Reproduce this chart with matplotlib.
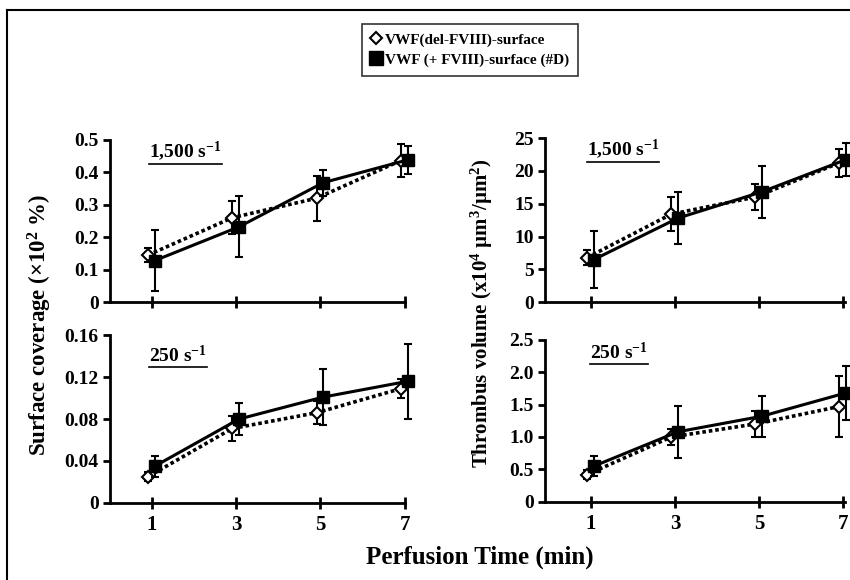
import matplotlib
matplotlib.use("Agg")
import matplotlib.pyplot as plt
from matplotlib.lines import Line2D
from matplotlib.transforms import IdentityTransform

plt.rcParams['font.family'] = ['Liberation Serif', 'DejaVu Serif']
plt.rcParams['font.weight'] = 'bold'
plt.rcParams['mathtext.fontset'] = 'custom'
plt.rcParams['mathtext.rm'] = 'Liberation Serif:bold'
plt.rcParams['mathtext.it'] = 'Liberation Serif:bold'
plt.rcParams['mathtext.bf'] = 'Liberation Serif:bold'

# --- data ---
time = [1, 3, 5, 7]

# surface coverage, 1,500 s-1
cov_hi_del = [0.145, 0.26, 0.32, 0.436]
cov_hi_del_err = [0.022, 0.05, 0.07, 0.05]
cov_hi_d = [0.128, 0.232, 0.368, 0.438]
cov_hi_d_err = [0.095, 0.094, 0.04, 0.043]

# surface coverage, 250 s-1
cov_lo_del = [0.025, 0.071, 0.086, 0.109]
cov_lo_del_err = [0.004, 0.012, 0.011, 0.009]
cov_lo_d = [0.035, 0.080, 0.101, 0.116]
cov_lo_d_err = [0.010, 0.015, 0.027, 0.036]

# thrombus volume, 1,500 s-1
vol_hi_del = [6.8, 13.4, 16.0, 21.2]
vol_hi_del_err = [1.2, 2.6, 2.0, 2.2]
vol_hi_d = [6.5, 12.8, 16.8, 21.7]
vol_hi_d_err = [4.3, 4.0, 4.0, 2.5]

# thrombus volume, 250 s-1
vol_lo_del = [0.42, 1.00, 1.20, 1.47]
vol_lo_del_err = [0.07, 0.13, 0.20, 0.47]
vol_lo_d = [0.55, 1.08, 1.32, 1.68]
vol_lo_d_err = [0.15, 0.40, 0.32, 0.42]

legend_labels = ["VWF(del-FVIII)-surface", "VWF (+ FVIII)-surface (#D)"]

fig = plt.figure(figsize=(8.5, 5.8), dpi=100)

panels = [
    # rect, del, del_err, d, d_err, ylim, yticks, yticklabels, title, title_pos, xlim
    ([0.129, 0.479, 0.347, 0.280], cov_hi_del, cov_hi_del_err, cov_hi_d, cov_hi_d_err,
     (0, 0.5), [0, 0.1, 0.2, 0.3, 0.4, 0.5], ["0", "0.1", "0.2", "0.3", "0.4", "0.5"],
     "1,500 s$^{-1}$", (0.135, 0.93), (0, 7)),
    ([0.129, 0.133, 0.347, 0.289], cov_lo_del, cov_lo_del_err, cov_lo_d, cov_lo_d_err,
     (0, 0.16), [0, 0.04, 0.08, 0.12, 0.16], ["0", "0.04", "0.08", "0.12", "0.16"],
     "250 s$^{-1}$", (0.135, 0.88), (0, 7)),
    ([0.641, 0.479, 0.353, 0.283], vol_hi_del, vol_hi_del_err, vol_hi_d, vol_hi_d_err,
     (0, 25), [0, 5, 10, 15, 20, 25], ["0", "5", "10", "15", "20", "25"],
     "1,500 s$^{-1}$", (0.14, 0.93), (-0.1, 7.05)),
    ([0.641, 0.135, 0.353, 0.279], vol_lo_del, vol_lo_del_err, vol_lo_d, vol_lo_d_err,
     (0, 2.5), [0, 0.5, 1.0, 1.5, 2.0, 2.5], ["0", "0.5", "1.0", "1.5", "2.0", "2.5"],
     "250 s$^{-1}$", (0.15, 0.92), (-0.1, 7.05)),
]

titles = []
for rect, ydel, edel, yd, ed, ylim, yt, ytl, title, tpos, xlim in panels:
    ax = fig.add_axes(rect)
    x_del = [t - 0.09 for t in time]
    x_d = [t + 0.07 for t in time]
    eb1 = ax.errorbar(x_del, ydel, yerr=edel, color='black', ls=(0, (1, 0.8)), lw=2.6,
                      marker='D', ms=6, mfc='white', mec='black', mew=1.5,
                      ecolor='black', elinewidth=1.5, capsize=3, capthick=1.5, zorder=3)
    eb2 = ax.errorbar(x_d, yd, yerr=ed, color='black', ls='-', lw=2.2,
                      marker='s', ms=8, mfc='black', mec='black',
                      ecolor='black', elinewidth=1.5, capsize=3, capthick=1.5, zorder=4)
    for eb in (eb1, eb2):
        for art in eb.get_children():
            art.set_clip_on(False)
    ax.set_xlim(*xlim)
    ax.set_ylim(*ylim)
    ax.set_yticks(yt)
    ax.set_yticklabels(ytl)
    ax.set_xticks(time)
    for s in ['top', 'right']:
        ax.spines[s].set_visible(False)
    for s in ['left', 'bottom']:
        ax.spines[s].set_linewidth(2)
    ax.tick_params(axis='y', direction='out', length=5, width=2, labelsize=14, pad=3)
    ax.tick_params(axis='x', direction='inout', length=9, width=2, labelsize=15, pad=4)
    if rect[1] > 0.4:
        ax.set_xticklabels([])
    titles.append(ax.text(tpos[0], tpos[1], title, transform=ax.transAxes,
                          fontsize=14, fontweight='bold', va='center', ha='left'))

fig.text(0.047, 0.44, "Surface coverage (\u00d710$^{2}$ %)", rotation=90,
         fontsize=16.5, fontweight='bold', ha='center', va='center')
fig.text(0.567, 0.46, "Thrombus volume (x10$^{4}$ \u00b5m$^{3}$/\u00b5m$^{2}$)", rotation=90,
         fontsize=15, fontweight='bold', ha='center', va='center')
fig.text(0.565, 0.04, "Perfusion Time (min)", fontsize=18, fontweight='bold',
         ha='center', va='center')

handles = [
    Line2D([], [], ls='none', marker='D', ms=6, mfc='white', mec='black', mew=1.5),
    Line2D([], [], ls='none', marker='s', ms=10, mfc='black', mec='black'),
]
leg = fig.legend(handles, legend_labels, loc='center', bbox_to_anchor=(0.553, 0.914),
                 frameon=True, fancybox=False, edgecolor='black', handlelength=0.6,
                 handletextpad=0.3, labelspacing=0.4, borderpad=0.6,
                 prop={'family': 'Liberation Serif', 'weight': 'bold', 'size': 11})
leg.get_frame().set_linewidth(1.2)

# page frame lines (top and left)
fig.add_artist(Line2D([0.008, 1.0], [0.983, 0.983], color='black', lw=1.5))
fig.add_artist(Line2D([0.008, 0.008], [0.0, 0.983], color='black', lw=1.5))

# underline the shear-rate labels
fig.canvas.draw()
for t in titles:
    bb = t.get_window_extent()
    fig.add_artist(Line2D([bb.x0, bb.x1], [bb.y0 - 1, bb.y0 - 1], color='black',
                          lw=1.2, transform=IdentityTransform()))

fig.savefig("out.png", dpi=100)
